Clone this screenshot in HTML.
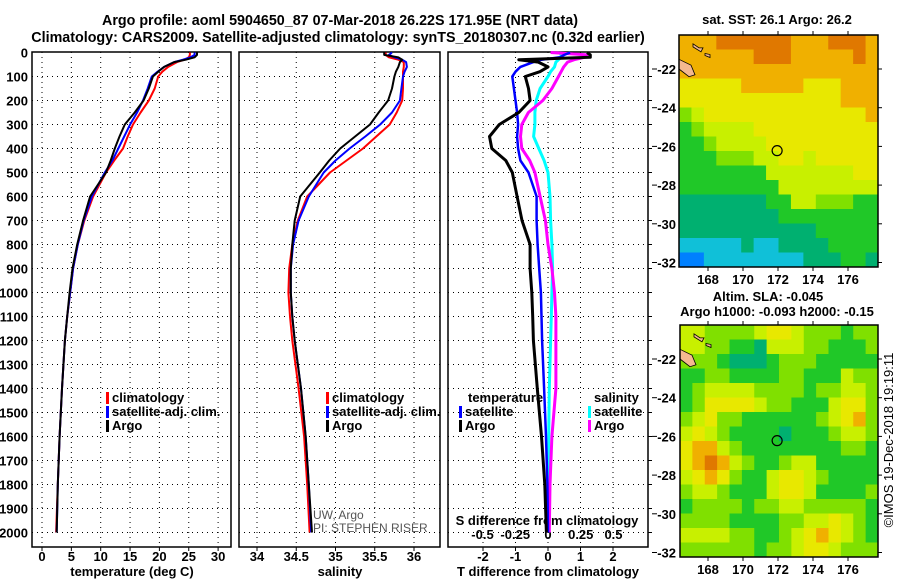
<!DOCTYPE html>
<html><head><meta charset="utf-8"><style>
body{margin:0;background:#fff;}
svg{display:block;font-family:"Liberation Sans",sans-serif;}
.b{font-weight:bold;font-size:13px;}
.t{font-weight:bold;font-size:14.3px;}
</style></head><body>
<svg id="c" width="900" height="580" viewBox="0 0 900 580">
<text class="t" x="340" y="25" text-anchor="middle">Argo profile: aoml 5904650_87 07-Mar-2018 26.22S 171.95E (NRT data)</text>
<text class="t" x="338" y="42" text-anchor="middle">Climatology: CARS2009. Satellite-adjusted climatology: synTS_20180307.nc (0.32d earlier)</text>
<text class="b" x="777" y="24" text-anchor="middle">sat. SST: 26.1 Argo: 26.2</text>
<text class="b" x="768" y="301" text-anchor="middle">Altim. SLA: -0.045</text>
<text class="b" x="777" y="316" text-anchor="middle">Argo h1000: -0.093 h2000: -0.15</text>
<text x="893" y="440" font-size="13" text-anchor="middle" transform="rotate(-90 893 440)">©IMOS 19-Dec-2018 19:19:11</text>
<g id="g"></g>
</svg>
<script>
const depths=[0,10,20,30,40,60,80,100,150,200,250,300,350,400,450,500,600,700,800,900,1000,1100,1200,1400,1600,1800,2000];
const argoT=[26.4,26.4,26,24.5,22.5,20.8,19.8,18.9,18.2,17.3,15.8,14.1,13.2,12.4,11.7,10.9,8.2,7.0,6.0,5.2,4.7,4.3,3.9,3.4,3.0,2.7,2.5];
const climT=[25.2,25.2,25,24.3,23,21.5,20.5,19.8,19.2,18.2,16.8,15.5,14.6,13.8,12.3,10.9,8.7,7.2,6.1,5.3,4.8,4.3,3.9,3.4,3.0,2.7,2.4];
const satT=[26.0,26,25.3,24,22.5,20.8,19.7,18.7,18.0,17.2,16.2,15.0,14.0,13.0,12.0,10.7,8.5,7.1,6.1,5.3,4.8,4.3,3.9,3.4,3.0,2.7,2.5];
const argoS=[35.62,35.62,35.8,35.85,35.82,35.8,35.77,35.75,35.72,35.67,35.55,35.44,35.25,35.06,34.92,34.8,34.55,34.48,34.45,34.43,34.43,34.45,34.48,34.56,34.62,34.66,34.7];
const climS=[35.64,35.64,35.68,35.8,35.87,35.87,35.86,35.86,35.86,35.85,35.78,35.69,35.52,35.35,35.14,34.93,34.64,34.52,34.45,34.41,34.4,34.42,34.45,34.53,34.6,34.64,34.67];
const satS=[35.72,35.68,35.75,35.85,35.9,35.91,35.88,35.86,35.84,35.82,35.72,35.57,35.38,35.18,35.0,34.85,34.66,34.53,34.46,34.43,34.43,34.45,34.48,34.56,34.62,34.66,34.69];
const argoDT=[1.2,1.3,1.3,-0.9,-0.3,0,-0.25,-0.7,-0.6,-0.55,-0.9,-1.5,-1.8,-1.73,-1.3,-1.1,-0.95,-0.8,-0.55,-0.55,-0.5,-0.47,-0.45,-0.33,-0.2,-0.1,-0.05];
const satDT=[0.68,0.5,0.37,-0.2,-0.45,-0.85,-1.0,-1.1,-1.05,-1.0,-0.95,-0.92,-0.95,-0.92,-0.85,-0.6,-0.35,-0.35,-0.32,-0.27,-0.22,-0.2,-0.18,-0.12,-0.06,-0.02,0];
const argoDS=[0.02,0.3,0.28,0.2,0.15,0.12,0.1,0.08,0.03,-0.04,-0.15,-0.2,-0.21,-0.2,-0.14,-0.1,-0.06,-0.02,0,0.03,0.05,0.06,0.06,0.06,0.03,0.015,0.01];
const satDS=[0.09,0.1,0.1,0.08,0.06,0.05,0.02,0,-0.06,-0.09,-0.1,-0.1,-0.11,-0.07,-0.03,0,0.015,0.02,0.03,0.035,0.03,0.025,0.02,0.01,0.005,0,0];
const depthTicks=[0,100,200,300,400,500,600,700,800,900,1000,1100,1200,1300,1400,1500,1600,1700,1800,1900,2000];
const tTicks=[0,5,10,15,20,25,30];
const sTicks=[34,34.5,35,35.5,36];
const dtTicks=[-2,-1,0,1,2];
const dsTicks=[-0.5,-0.25,0,0.25,0.5];
const lonTicks=[168,170,172,174,176];
const latTicks=[-22,-24,-26,-28,-30,-32];
const floatLon=171.95, floatLat=-26.22;
const sstGrid=["8889999998889998","8888889998888898","8888888888888888","7777788888777888","7777777777777888","5677777777777778","4566667777777777","4456666777777777","4445556677677777","4444444666666677","4444444466666666","3333333446655544","3333333344444444","3333333333344444","2222232233334444","1122222222333443"];
const slaGrid=["6655556776555455","6655443666554445","5554333455544444","4455444455444655","4566665555455665","4577776554446775","5675544444456785","6765444434445665","7886544444444554","7898654456644444","6787544677654444","5665444677644445","4555545566555554","5555444455667654","6666554456787654","5555554556776555"];
const pal=["#0020a0","#0080ff","#10c0d8","#00b070","#20c828","#80e000","#c8f000","#e8e800","#f0b000","#e07800"];

const NS="http://www.w3.org/2000/svg";
const G=document.getElementById('g');
function el(t,a,p){const e=document.createElementNS(NS,t);for(const k in a)e.setAttribute(k,a[k]);(p||G).appendChild(e);return e;}
const yD=d=>52.5+d*0.24;
const xT=t=>42+t*5.87, xS=s=>257+(s-34)*78.5, xdT=d=>548+32.5*d, xdS=s=>548+131*s;
const P=[{x0:32,x1:231,n:'temperature'},{x0:239,x1:440,n:'salinity'},{x0:448,x1:648,n:'difference'}];
const yB=547;
function txt(x,y,s,anchor,cls,name,extra){const e=el('text',Object.assign({x:x,y:y,'text-anchor':anchor||'start'},extra||{}));if(cls)e.setAttribute('class',cls);e.textContent=s;

return e;}
P.forEach((p,i)=>{
  const g=el('g',{});
  
  
  depthTicks.forEach(d=>{if(d>0)el('line',{x1:p.x0,x2:p.x1,y1:yD(d),y2:yD(d),stroke:'#000','stroke-width':1,'stroke-dasharray':'1,4'},g);});
  const xs=i==0?tTicks.map(xT):i==1?sTicks.map(xS):dtTicks.map(xdT);
  xs.forEach(x=>el('line',{x1:x,x2:x,y1:52,y2:yB,stroke:'#000','stroke-width':1,'stroke-dasharray':'1,4'},g));
  el('rect',{x:p.x0,y:52,width:p.x1-p.x0,height:yB-52,fill:'none',stroke:'#000','stroke-width':1.5},g);
  xs.forEach(x=>el('line',{x1:x,x2:x,y1:yB,y2:yB+4,stroke:'#000','stroke-width':1},g));
});
depthTicks.forEach(d=>txt(28,yD(d)+5,String(d),'end','b','depth-tick-label'));
tTicks.forEach(t=>txt(xT(t),561,String(t),'middle','b','temperature-tick-label'));
sTicks.forEach(s=>txt(xS(s),561,String(s),'middle','b','salinity-tick-label'));
dtTicks.forEach(s=>txt(xdT(s),561,String(s),'middle','b','t-diff-tick-label'));
dsTicks.forEach(s=>txt(xdS(s),539,String(s),'middle','b','s-diff-tick-label'));
for(let d=100;d<=2000;d+=100)el('line',{x1:648,x2:652,y1:yD(d),y2:yD(d),stroke:'#000'});
txt(132,576,'temperature (deg C)','middle','b','x-axis-title-temperature');
txt(340,576,'salinity','middle','b','x-axis-title-salinity');
txt(548,576,'T difference from climatology','middle','b','x-axis-title-t-diff');
txt(547,525,'S difference from climatology','middle','b','s-diff-axis-title');
function line(vals,fx,color,w,name){
  const pts=vals.map((v,i)=>fx(v).toFixed(1)+','+yD(depths[i]).toFixed(1)).join(' ');
  const e=el('polyline',{points:pts,fill:'none',stroke:color,'stroke-width':w,'stroke-linejoin':'round'});
  
  
}
line(climT,xT,'#f00',2,'temperature-climatology-line');
line(satT,xT,'#00f',2,'temperature-satellite-line');
line(argoT,xT,'#000',2,'temperature-argo-line');
line(climS,xS,'#f00',2,'salinity-climatology-line');
line(satS,xS,'#00f',2,'salinity-satellite-line');
line(argoS,xS,'#000',2,'salinity-argo-line');
line(satDS,xdS,'#00ffff',3,'s-diff-satellite-line');
line(argoDS,xdS,'#ff00ff',3,'s-diff-argo-line');
line(satDT,xdT,'#0000ff',2.5,'t-diff-satellite-line');
line(argoDT,xdT,'#000',3,'t-diff-argo-line');
function leg(x,y,c,s,name){el('rect',{x:x,y:y-10,width:3,height:12,fill:c});const t=txt(x+6,y,s,'start','b',name);t.setAttribute('font-size','12');}
leg(106,402,'#f00','climatology','legend-temp-climatology');
leg(106,416,'#00f','satellite-adj. clim.','legend-temp-satellite');
leg(106,430,'#000','Argo','legend-temp-argo');
leg(326,402,'#f00','climatology','legend-sal-climatology');
leg(326,416,'#00f','satellite-adj. clim.','legend-sal-satellite');
leg(326,430,'#000','Argo','legend-sal-argo');
txt(468,402,'temperature','start','b','legend-temperature-heading').setAttribute('font-size','12');
leg(459,416,'#00f','satellite','legend-t-diff-satellite');
leg(459,430,'#000','Argo','legend-t-diff-argo');
txt(594,402,'salinity','start','b','legend-salinity-heading').setAttribute('font-size','12');
leg(588,416,'#00ffff','satellite','legend-s-diff-satellite');
leg(588,430,'#ff00ff','Argo','legend-s-diff-argo');
const c1=txt(313,519,'UW, Argo','start',null,'data-credit-1');c1.setAttribute('font-size','12');c1.setAttribute('fill','#555');
const c2=txt(313,532,'PI: STEPHEN RISER','start',null,'data-credit-2');c2.setAttribute('font-size','12');c2.setAttribute('fill','#555');
function map(grid,x0,x1,y0,y1,latRef,name){
  const g=el('g',{});
  
  
  const rows=grid.length,cols=grid[0].length,cw=(x1-x0)/cols,ch=(y1-y0)/rows;
  grid.forEach((r,i)=>{for(let j=0;j<cols;j++){el('rect',{x:x0+j*cw,y:y0+i*ch,width:cw+0.5,height:ch+0.5,fill:pal[+r[j]]},g);}});
  const lx=lon=>708+(lon-168)*17.5, ly=lat=>latRef+(-22-lat)*19.35;
  el('path',{d:`M${x0} ${ly(-21.5)} L${x0+12} ${ly(-21.8)} L${x0+16} ${ly(-22.3)} L${x0+10} ${ly(-22.4)} L${x0} ${ly(-22.0)} Z`,fill:'#f4b890',stroke:'#000','stroke-width':0.8},g);
  el('path',{d:`M${x0+14} ${ly(-20.7)} l6 4 l4 0 l-2 4 l-8 -5 Z`,fill:'#f4b890',stroke:'#000','stroke-width':0.8},g);
  el('path',{d:`M${x0+26} ${ly(-21.2)} l5 1 l0 3 l-5 -2 Z`,fill:'#f4b890',stroke:'#000','stroke-width':0.8},g);
  el('rect',{x:x0,y:y0,width:x1-x0,height:y1-y0,fill:'none',stroke:'#000','stroke-width':1.5},g);
  const c=el('circle',{cx:lx(floatLon),cy:ly(floatLat),r:5,fill:'none',stroke:'#000','stroke-width':1.2},g);
  
  
  lonTicks.forEach(l=>{el('line',{x1:lx(l),x2:lx(l),y1:y0-4,y2:y0,stroke:'#000'},g);el('line',{x1:lx(l),x2:lx(l),y1:y1,y2:y1+4,stroke:'#000'},g);
    txt(lx(l),y1+17,String(l),'middle','b','longitude-tick-label');});
  latTicks.forEach(l=>{el('line',{x1:x1,x2:x1+4,y1:ly(l),y2:ly(l),stroke:'#000'},g);el('line',{x1:652,x2:657,y1:ly(l),y2:ly(l),stroke:'#000'},g);
    txt(676,ly(l)+5,String(l),'end','b','latitude-tick-label');});
}
map(sstGrid,679,878,35,267,69,'sst-map');
map(slaGrid,680,878,325,557,359,'sla-map');
</script>
</body></html>
